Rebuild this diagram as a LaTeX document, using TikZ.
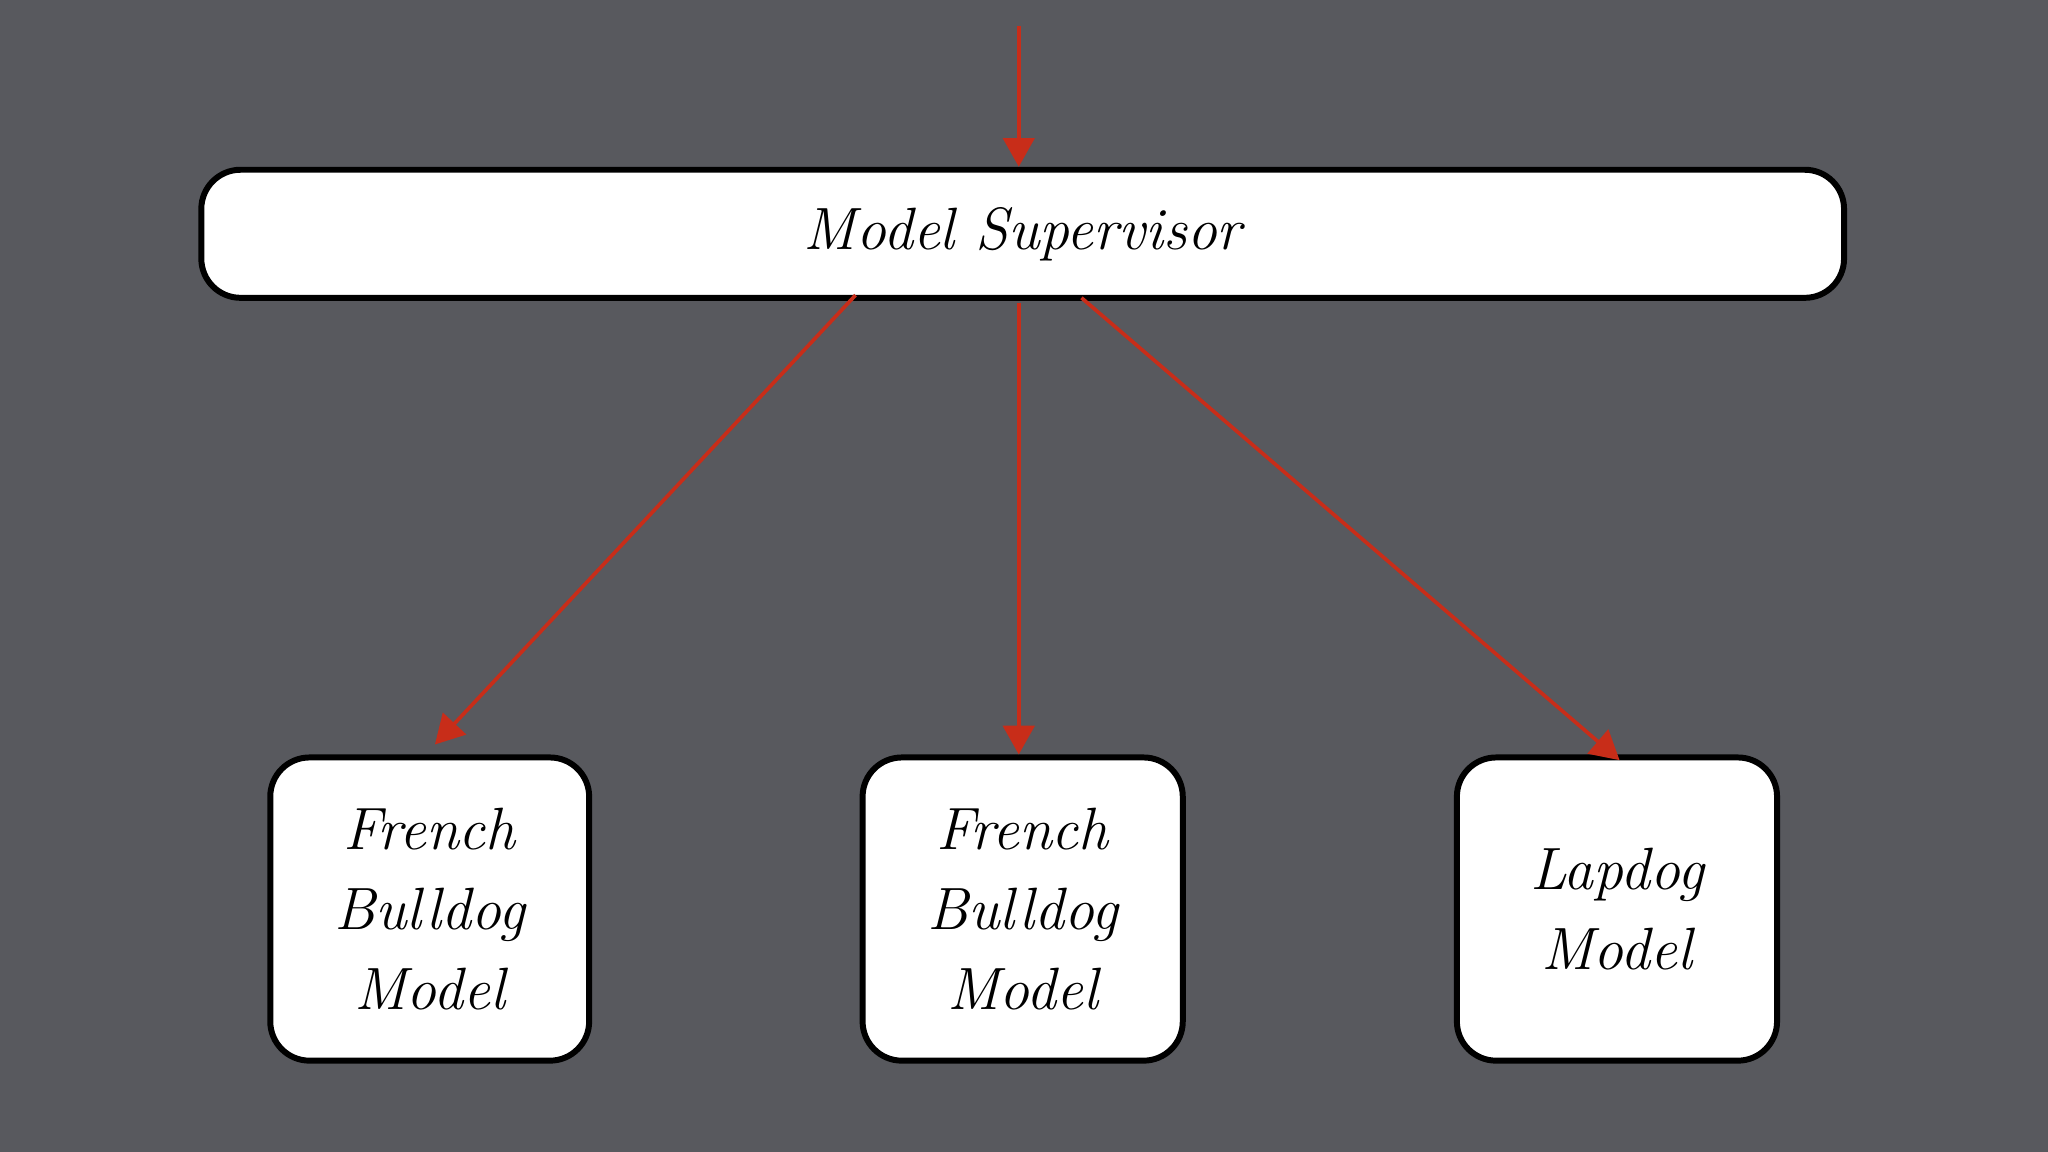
\documentclass[tikz,border=0pt]{standalone}
\usetikzlibrary{arrows.meta}
\begin{document}
\begin{tikzpicture}[x=0.01cm,y=-0.01cm,
  box/.style={draw=black,line width=1.3pt,fill=white,rounded corners=0.3cm,align=center,font=\fontsize{13}{17.5}\selectfont\itshape,inner sep=0pt},
  arr/.style={draw={rgb,255:red,200;green,45;blue,25},line width=0.8pt,-{Triangle[length=0.22cm,width=0.24cm]}}]
\fill[fill={rgb,255:red,88;green,89;blue,94}] (0,0) rectangle (1568,882);
\useasboundingbox (0,0) rectangle (1568,882);
\node[box,minimum width=12.57cm,minimum height=0.98cm] (sup) at (783,179) {Model Supervisor};
\node[box,minimum width=2.44cm,minimum height=2.32cm] (b1) at (329,696) {French\\Bulldog\\Model};
\node[box,minimum width=2.45cm,minimum height=2.32cm] (b2) at (783,696) {French\\Bulldog\\Model};
\node[box,minimum width=2.45cm,minimum height=2.32cm] (b3) at (1238,696) {Lapdog\\Model};
\coordinate (top) at (780,20);
\coordinate (s1) at (655,226);
\coordinate (s2) at (780,232);
\coordinate (s3) at (828,228);
\draw[arr] (top) -- (sup.north -| top);
\draw[arr] (s1) -- (333,570) coordinate (e1);
\draw[arr] (s2) -- (b2.north -| s2);
\draw[arr] (s3) -- (1240,582) coordinate (e3);
\end{tikzpicture}
\end{document}
